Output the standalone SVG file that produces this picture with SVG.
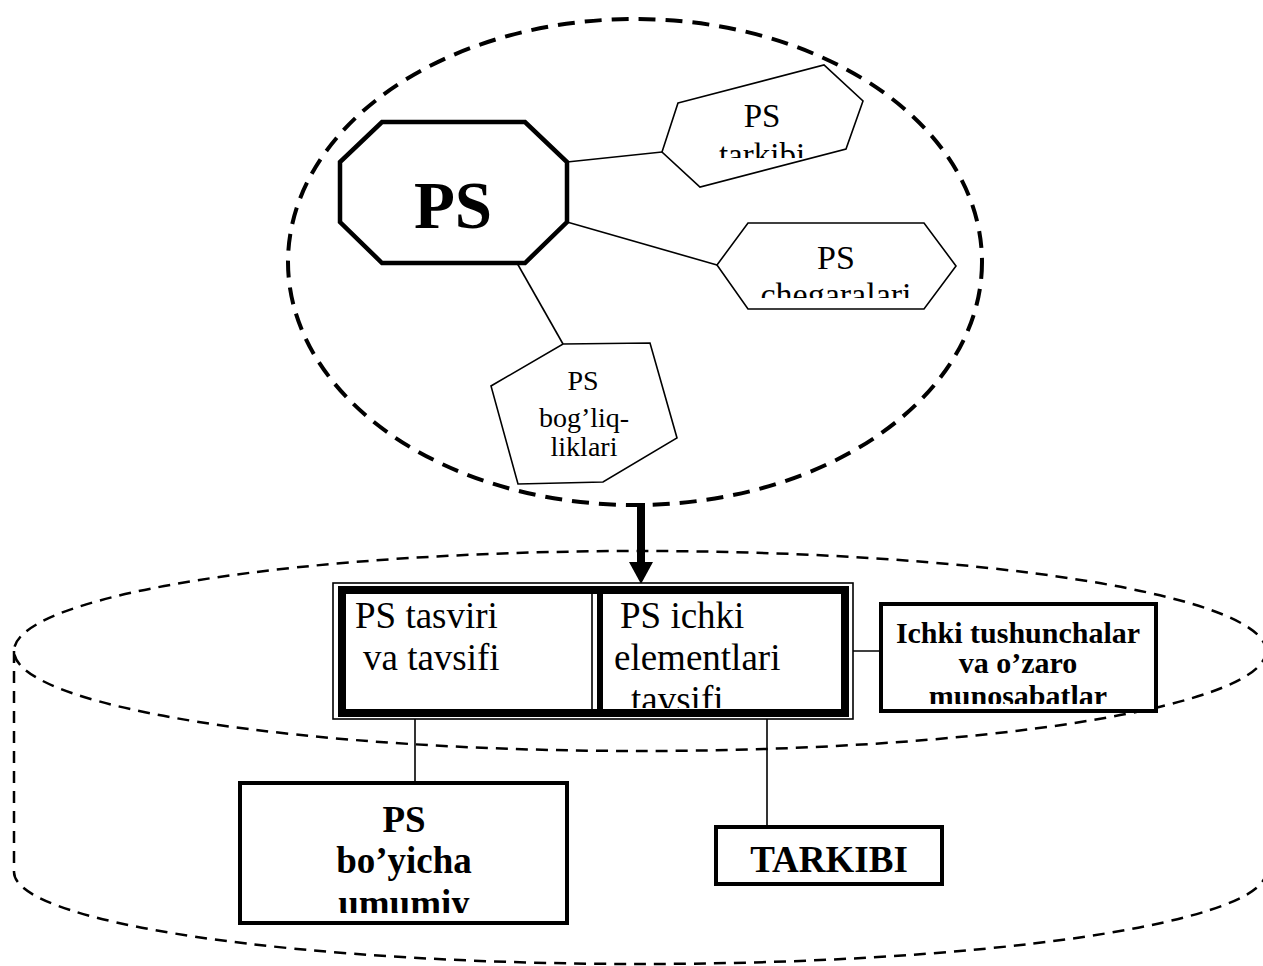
<svg xmlns="http://www.w3.org/2000/svg" width="1263" height="966" viewBox="0 0 1263 966">
<style>
.bg{fill:#fff}
.t{font-family:"Liberation Serif","Times New Roman",serif;fill:#000}
.b{font-weight:bold}
.thin{fill:#fff;stroke:#000;stroke-width:1.6}
.med{fill:#fff;stroke:#000;stroke-width:4}
.ln{stroke:#000;stroke-width:1.6;fill:none}
.dashA{fill:none;stroke:#000;stroke-width:4;stroke-dasharray:17 10}
.dashB{fill:none;stroke:#000;stroke-width:2.5;stroke-dasharray:12 8}
</style>
<defs>
<clipPath id="c1"><rect x="650" y="60" width="230" height="98"/></clipPath>
<clipPath id="c2"><rect x="700" y="215" width="270" height="83"/></clipPath>
<clipPath id="c3"><rect x="600" y="590" width="245" height="118"/></clipPath>
<clipPath id="c4"><rect x="880" y="604" width="276" height="100"/></clipPath>
<clipPath id="c5"><rect x="240" y="783" width="327" height="130"/></clipPath>
</defs>
<rect class="bg" x="0" y="0" width="1263" height="966"/>

<g id="upper-ellipse">
<ellipse class="dashA" cx="635" cy="262" rx="347" ry="243"/>
</g>

<g id="cylinder">
<ellipse class="dashB" cx="640" cy="651" rx="626" ry="100"/>
<path class="dashB" d="M14,651 V872 A626,92 0 0 0 1266,872"/>
</g>

<g id="connectors">
<line class="ln" x1="567" y1="162" x2="662" y2="152"/>
<line class="ln" x1="567" y1="222" x2="717" y2="265"/>
<line class="ln" x1="517" y1="263" x2="563" y2="344"/>
<line x1="641" y1="503" x2="641" y2="563" stroke="#000" stroke-width="8"/>
<polygon points="629,562 653,562 641,584" fill="#000"/>
<line class="ln" x1="840" y1="651" x2="881" y2="651"/>
<line class="ln" x1="415" y1="717" x2="415" y2="783"/>
<line class="ln" x1="767" y1="717" x2="767" y2="828"/>
</g>

<g id="node-ps">
<polygon points="382,122 525,122 567,162 567,222 525,263 382,263 340,222 340,162" fill="#fff" stroke="#000" stroke-width="4.5" stroke-linejoin="miter"/>
<text class="t b" x="453" y="228" font-size="67" text-anchor="middle">PS</text>
</g>

<g id="node-tarkibi">
<polygon class="thin" points="678,103 824,65 863,101 846,149 700,187 662,152"/>
<g clip-path="url(#c1)">
<text class="t" x="762" y="127" font-size="33" text-anchor="middle">PS</text>
<text class="t" x="762" y="166" font-size="33" text-anchor="middle">tarkibi</text>
</g>
</g>

<g id="node-chegaralari">
<polygon class="thin" points="717,265 748,223 924,223 956,266 924,309 748,309"/>
<g clip-path="url(#c2)">
<text class="t" x="836" y="269" font-size="34" text-anchor="middle">PS</text>
<text class="t" x="836" y="306" font-size="34" text-anchor="middle">chegaralari</text>
</g>
</g>

<g id="node-bogliq">
<polygon class="thin" points="563,344 650,343 677,438 603,482 518,484 491,386"/>
<text class="t" x="583" y="390" font-size="28" text-anchor="middle">PS</text>
<text class="t" x="584" y="427" font-size="28" text-anchor="middle">bog’liq-</text>
<text class="t" x="584" y="456" font-size="28" text-anchor="middle">liklari</text>
</g>

<g id="node-main">
<rect x="333" y="583" width="520" height="136" fill="#fff" stroke="#000" stroke-width="1.6"/>
<rect x="342" y="590" width="503" height="123" fill="#fff" stroke="#000" stroke-width="8"/>
<line x1="592" y1="594" x2="592" y2="709" stroke="#000" stroke-width="1.6"/>
<line x1="600" y1="594" x2="600" y2="709" stroke="#000" stroke-width="6"/>
<text class="t" x="355" y="628" font-size="37">PS tasviri</text>
<text class="t" x="363" y="670" font-size="37">va tavsifi</text>
<text class="t" x="620" y="628" font-size="37">PS ichki</text>
<text class="t" x="614" y="670" font-size="37">elementlari</text>
<g clip-path="url(#c3)">
<text class="t" x="631" y="712" font-size="37">tavsifi</text>
</g>
</g>

<g id="node-ichki">
<rect class="med" x="881" y="604" width="275" height="107"/>
<g clip-path="url(#c4)">
<text class="t b" x="1018" y="643" font-size="30" text-anchor="middle">Ichki tushunchalar</text>
<text class="t b" x="1018" y="673" font-size="30" text-anchor="middle">va o’zaro</text>
<text class="t b" x="1018" y="706" font-size="30" text-anchor="middle">munosabatlar</text>
</g>
</g>

<g id="node-umumiy">
<rect class="med" x="240" y="783" width="327" height="140"/>
<text class="t b" x="404" y="832" font-size="37" text-anchor="middle">PS</text>
<text class="t b" x="404" y="873" font-size="37" text-anchor="middle">bo’yicha</text>
<g clip-path="url(#c5)">
<text class="t b" x="404" y="916" font-size="37" text-anchor="middle">umumiy</text>
</g>
</g>

<g id="node-tarkibi2">
<rect class="med" x="716" y="827" width="226" height="57"/>
<text class="t b" x="829" y="872" font-size="37" text-anchor="middle">TARKIBI</text>
</g>
</svg>
